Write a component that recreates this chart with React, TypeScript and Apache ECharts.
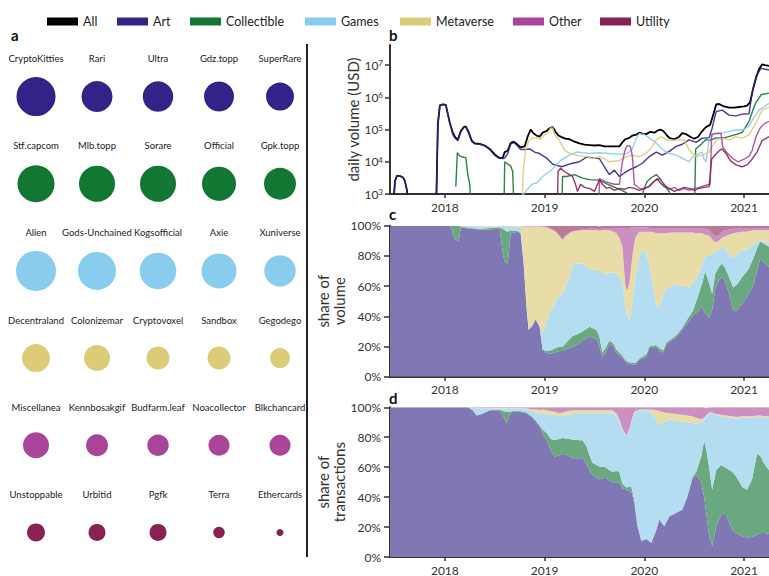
import React, { useEffect, useRef } from 'react';
import * as echarts from 'echarts';

const FONT = 'Lato, "Noto Sans", "DejaVu Sans", sans-serif';

// ---------- legend / categories ----------
const legendNames = ['All', 'Art', 'Collectible', 'Games', 'Metaverse', 'Other', 'Utility'];
const categories = ['Art', 'Collectible', 'Games', 'Metaverse', 'Other', 'Utility'];
const lineColors: Record<string, string> = {
  All: '#000000', Art: '#332288', Collectible: '#117733', Games: '#88CCEE',
  Metaverse: '#DDCC77', Other: '#AA4499', Utility: '#882255',
};
const areaColors: Record<string, string> = {
  Art: '#8078b4', Collectible: '#6aa97f', Games: '#b5ddf1',
  Metaverse: '#e9dda7', Other: '#cc8fc2', Utility: '#b77a99',
};
const legendLeft = [47, 117, 190, 305, 400, 513, 600];

// ---------- panel a: top collections ----------
const artCollections = ['CryptoKitties', 'Rari', 'Ultra', 'Gdz.topp', 'SuperRare'];
const artBubble = [39, 31, 30.5, 30, 28];
const collectibleCollections = ['Stf.capcom', 'Mlb.topp', 'Sorare', 'Official', 'Gpk.topp'];
const collectibleBubble = [37, 36, 36, 34, 32];
const gamesCollections = ['Alien', 'Gods-Unchained', 'Kogsofficial', 'Axie', 'Xuniverse'];
const gamesBubble = [40, 38, 36.5, 35, 31.5];
const metaverseCollections = ['Decentraland', 'Colonizemar', 'Cryptovoxel', 'Sandbox', 'Gegodego'];
const metaverseBubble = [28, 26, 23, 23, 20];
const otherCollections = ['Miscellanea', 'Kennbosakgif', 'Budfarm.leaf', 'Noacollector', 'Blkchancard'];
const otherBubble = [26, 22, 21.5, 21, 21];
const utilityCollections = ['Unstoppable', 'Urbitid', 'Pgfk', 'Terra', 'Ethercards'];
const utilityBubble = [18, 17, 17, 11.5, 7];

// ---------- panel b: daily volume (USD), [decimal year, value] ----------
const yearTicks = [2018, 2019, 2020, 2021];

const volAll = [
  [2017.45, 100], [2017.48, 300], [2017.5, 2500], [2017.52, 3700], [2017.55, 3600], [2017.58, 3300], [2017.6, 2500], [2017.62, 1300], [2017.65, 100],
  [2017.9, 100], [2017.915, 800], [2017.93, 150000], [2017.95, 560000], [2017.98, 600000], [2018.01, 580000], [2018.03, 300000], [2018.05, 160000],
  [2018.08, 80000], [2018.1, 60000], [2018.13, 48000], [2018.16, 90000], [2018.19, 120000], [2018.21, 125000], [2018.24, 80000], [2018.27, 45000],
  [2018.3, 37000], [2018.35, 36000], [2018.4, 32000], [2018.45, 25000], [2018.5, 17000], [2018.54, 13500], [2018.58, 13000], [2018.6, 20000],
  [2018.63, 22000], [2018.66, 38000], [2018.69, 42000], [2018.72, 36000], [2018.76, 28000], [2018.8, 30000], [2018.83, 60000], [2018.86, 100000],
  [2018.89, 75000], [2018.92, 65000], [2018.95, 60000], [2018.98, 80000], [2019.02, 90000], [2019.05, 110000], [2019.08, 120000], [2019.11, 85000],
  [2019.14, 65000], [2019.17, 58000], [2019.21, 52000], [2019.25, 50000], [2019.3, 42000], [2019.35, 37000], [2019.4, 34000], [2019.45, 33000],
  [2019.5, 32000], [2019.55, 33000], [2019.6, 30000], [2019.65, 30000], [2019.7, 30000], [2019.75, 30000], [2019.78, 40000], [2019.81, 50000],
  [2019.85, 55000], [2019.88, 65000], [2019.92, 70000], [2019.95, 80000], [2019.98, 75000], [2020.02, 72000], [2020.06, 85000], [2020.1, 80000],
  [2020.14, 95000], [2020.16, 100000], [2020.19, 90000], [2020.22, 70000], [2020.25, 55000], [2020.3, 50000], [2020.35, 60000], [2020.38, 78000],
  [2020.42, 72000], [2020.46, 60000], [2020.5, 52000], [2020.54, 60000], [2020.58, 90000], [2020.62, 120000], [2020.66, 140000], [2020.69, 280000],
  [2020.72, 600000], [2020.75, 620000], [2020.8, 520000], [2020.85, 480000], [2020.9, 480000], [2020.95, 500000], [2021.0, 520000], [2021.03, 550000],
  [2021.06, 700000], [2021.09, 1800000], [2021.12, 4000000], [2021.15, 7500000], [2021.18, 10500000], [2021.21, 10000000], [2021.25, 9500000],
];
const volArt = [
  [2017.45, 100], [2017.48, 300], [2017.5, 2500], [2017.52, 3700], [2017.55, 3600], [2017.58, 3300], [2017.6, 2500], [2017.62, 1300], [2017.65, 100],
  [2017.9, 100], [2017.915, 800], [2017.93, 150000], [2017.95, 560000], [2017.98, 600000], [2018.01, 580000], [2018.03, 300000], [2018.05, 160000],
  [2018.08, 70000], [2018.1, 55000], [2018.13, 45000], [2018.16, 85000], [2018.19, 115000], [2018.21, 120000], [2018.24, 75000], [2018.27, 42000],
  [2018.3, 36000], [2018.35, 35000], [2018.4, 31000], [2018.45, 24000], [2018.5, 16000], [2018.54, 13000], [2018.58, 12500], [2018.6, 13000],
  [2018.63, 18000], [2018.66, 35000], [2018.69, 40000], [2018.72, 33000], [2018.76, 24000], [2018.8, 24000], [2018.85, 25000], [2018.9, 20000],
  [2018.95, 18000], [2019.02, 13000], [2019.08, 8500], [2019.17, 7000], [2019.25, 8500], [2019.35, 10000], [2019.42, 14000], [2019.5, 13000],
  [2019.55, 12500], [2019.6, 7000], [2019.65, 4000], [2019.7, 5500], [2019.75, 3500], [2019.8, 4500], [2019.85, 5600], [2019.92, 7000],
  [2019.98, 9000], [2020.05, 14500], [2020.12, 20000], [2020.18, 16000], [2020.25, 21000], [2020.32, 30000], [2020.38, 35000], [2020.45, 48000],
  [2020.52, 40000], [2020.58, 54000], [2020.65, 56000], [2020.68, 110000], [2020.72, 360000], [2020.78, 400000], [2020.85, 280000], [2020.92, 265000],
  [2020.98, 300000], [2021.05, 310000], [2021.08, 1350000], [2021.12, 4400000], [2021.17, 8000000], [2021.25, 7000000],
];
const volCollectible = [
  [2018.11, 1700], [2018.125, 19000], [2018.15, 15000], [2018.18, 14000], [2018.21, 13500], [2018.23, 4000], [2018.25, 2000], [2018.27, 100],
  [2018.59, 100], [2018.6, 10000], [2018.63, 8500], [2018.66, 7500], [2018.68, 5000], [2018.7, 100], [2019.17, 100], [2019.18, 3500],
  [2019.22, 3500], [2019.3, 4000], [2019.38, 3100], [2019.45, 2800], [2019.55, 2700], [2019.65, 1900], [2019.75, 1400], [2019.82, 1100],
  [2019.87, 100], [2019.97, 100], [2019.99, 1300], [2020.03, 2500], [2020.07, 3200], [2020.12, 4000], [2020.16, 3000], [2020.2, 1800],
  [2020.25, 1200], [2020.3, 100], [2020.5, 100], [2020.515, 25000], [2020.57, 35000], [2020.62, 50000], [2020.65, 45000], [2020.72, 55000],
  [2020.8, 55000], [2020.88, 65000], [2020.98, 80000], [2021.05, 180000], [2021.1, 500000], [2021.12, 700000], [2021.17, 1200000], [2021.25, 1350000],
];
const volGames = [
  [2018.76, 100], [2018.78, 900], [2018.82, 1300], [2018.86, 1800], [2018.885, 2100], [2018.92, 2200], [2018.95, 2700], [2018.98, 3500],
  [2019.02, 4400], [2019.07, 5500], [2019.1, 7000], [2019.135, 9000], [2019.17, 11500], [2019.25, 16000], [2019.32, 20000], [2019.38, 19000],
  [2019.45, 18000], [2019.55, 19000], [2019.65, 18000], [2019.75, 17000], [2019.83, 18000], [2019.88, 25000], [2019.92, 55000], [2019.95, 75000],
  [2020.0, 70000], [2020.05, 55000], [2020.12, 38000], [2020.18, 24000], [2020.25, 18000], [2020.32, 16000], [2020.38, 13000], [2020.45, 10000],
  [2020.48, 14000], [2020.52, 16000], [2020.58, 20000], [2020.6, 12000], [2020.62, 10000], [2020.65, 48000], [2020.7, 75000], [2020.8, 80000],
  [2020.9, 95000], [2021.0, 100000], [2021.05, 130000], [2021.085, 200000], [2021.15, 400000], [2021.25, 650000],
];
const volMetaverse = [
  [2018.77, 100], [2018.785, 5000], [2018.81, 23000], [2018.84, 45000], [2018.88, 55000], [2018.92, 55000], [2018.96, 50000], [2019.0, 70000],
  [2019.03, 75000], [2019.06, 110000], [2019.08, 115000], [2019.1, 70000], [2019.13, 55000], [2019.15, 45000], [2019.2, 23000], [2019.25, 18000],
  [2019.32, 16000], [2019.42, 14500], [2019.48, 12500], [2019.55, 14500], [2019.6, 12500], [2019.65, 10000], [2019.75, 11000], [2019.82, 14500],
  [2019.88, 16000], [2019.95, 14500], [2020.02, 18000], [2020.08, 30000], [2020.12, 48000], [2020.17, 60000], [2020.22, 48000], [2020.28, 46000],
  [2020.35, 48000], [2020.4, 48000], [2020.45, 23000], [2020.52, 14500], [2020.58, 16000], [2020.65, 20000], [2020.72, 48000], [2020.78, 54000],
  [2020.85, 48000], [2020.92, 60000], [2020.98, 54000], [2021.05, 68000], [2021.12, 160000], [2021.18, 400000], [2021.25, 500000],
];
const volOther = [
  [2019.54, 100], [2019.55, 3000], [2019.6, 2500], [2019.65, 2200], [2019.7, 2000], [2019.75, 2000], [2019.78, 10000], [2019.81, 25000],
  [2019.83, 32000], [2019.86, 30000], [2019.88, 15000], [2019.9, 2000], [2019.95, 1500], [2020.0, 1400], [2020.05, 1800], [2020.1, 2500],
  [2020.15, 3000], [2020.2, 2000], [2020.25, 1400], [2020.3, 1600], [2020.35, 1300], [2020.4, 1500], [2020.45, 1300], [2020.5, 1500],
  [2020.55, 1600], [2020.6, 1800], [2020.66, 2000], [2020.675, 70000], [2020.72, 75000], [2020.77, 75000], [2020.785, 30000], [2020.82, 20000],
  [2020.88, 13000], [2020.94, 10000], [2021.0, 12000], [2021.05, 15000], [2021.08, 22000], [2021.12, 60000], [2021.16, 110000], [2021.2, 150000],
  [2021.25, 180000],
];
const volUtility = [
  [2019.125, 100], [2019.135, 5000], [2019.16, 6300], [2019.2, 5000], [2019.25, 4000], [2019.28, 3500], [2019.31, 2000], [2019.33, 1200],
  [2019.36, 2000], [2019.4, 1600], [2019.45, 1500], [2019.5, 1200], [2019.55, 2800], [2019.58, 2000], [2019.62, 1500], [2019.65, 1600],
  [2019.7, 1300], [2019.75, 1500], [2019.8, 1400], [2019.85, 1600], [2019.9, 1500], [2019.95, 1300], [2020.0, 1500], [2020.05, 1700],
  [2020.1, 2500], [2020.13, 3000], [2020.16, 2200], [2020.2, 1700], [2020.25, 1500], [2020.3, 1200], [2020.35, 1400], [2020.4, 1600],
  [2020.45, 1500], [2020.5, 1300], [2020.55, 1500], [2020.6, 1600], [2020.65, 1700], [2020.675, 12000], [2020.7, 15000], [2020.75, 22000],
  [2020.78, 25000], [2020.82, 18000], [2020.86, 11000], [2020.92, 8000], [2020.98, 7000], [2021.03, 8000], [2021.08, 12000], [2021.13, 20000],
  [2021.18, 45000], [2021.25, 60000],
];

// ---------- panel c: share of volume (%) ----------
const volShareDates = [
  2017.45, 2018.05, 2018.07, 2018.1, 2018.14, 2018.16, 2018.25, 2018.35, 2018.45, 2018.55,
  2018.58, 2018.6, 2018.63, 2018.66, 2018.73, 2018.76, 2018.79, 2018.82, 2018.84, 2018.88,
  2018.91, 2018.95, 2018.98, 2019.01, 2019.05, 2019.11, 2019.15, 2019.18, 2019.21, 2019.25,
  2019.28, 2019.32, 2019.38, 2019.45, 2019.52, 2019.55, 2019.58, 2019.62, 2019.65, 2019.69,
  2019.72, 2019.75, 2019.78, 2019.81, 2019.83, 2019.85, 2019.88, 2019.91, 2019.95, 2019.98,
  2020.02, 2020.05, 2020.08, 2020.12, 2020.15, 2020.19, 2020.22, 2020.27, 2020.32, 2020.38,
  2020.45, 2020.49, 2020.52, 2020.55, 2020.58, 2020.61, 2020.65, 2020.68, 2020.71, 2020.75,
  2020.78, 2020.81, 2020.85, 2020.89, 2020.93, 2020.98, 2021.02, 2021.05, 2021.09, 2021.13,
  2021.16, 2021.2, 2021.25,
];
const volShareArt = [
  100, 100, 97, 91, 90, 99, 98, 97.5, 97.5, 98,
  82, 76, 75, 95, 96, 95, 75, 45, 31, 34,
  38, 33, 18, 16, 15, 16, 17, 17, 18, 19,
  20, 21, 24, 26.5, 25, 20, 13, 17, 22, 20,
  16, 14, 13, 10, 9, 8.5, 8, 8, 11, 12,
  13, 19, 19, 20, 17, 16, 21, 24, 26, 31,
  37, 41, 42, 44, 46, 42, 39, 44, 58, 64,
  66, 63, 55, 44, 44, 48.5, 52, 55, 60, 70,
  78, 76, 72.5,
];
const volShareCollectible = [
  0, 0, 3, 9, 10, 0.5, 0.5, 0.5, 1, 1,
  16, 21, 21, 2, 0.5, 0.3, 0, 0, 0, 0,
  0, 0, 0.5, 1, 2, 3, 3, 3, 4, 6,
  7, 7, 6, 6.5, 6, 6.5, 3, 3, 2, 2,
  2, 2, 1, 1, 1, 1, 1, 1, 1, 1,
  2, 1, 1.5, 1, 2, 1.5, 1.5, 1, 1.5, 1.5,
  3, 3, 8, 12, 16, 28, 23, 11, 10, 9,
  9, 9, 11, 15, 17, 17.5, 17, 17, 18, 15,
  11.5, 12, 13.5,
];
const volShareGames = [
  0, 0, 0, 0, 0, 0.5, 1.3, 1.5, 1, 0.6,
  1.5, 2.5, 3.3, 2, 3, 4.2, 0.5, 0.3, 0.3, 0.3,
  0.3, 0.5, 10.5, 17, 25, 31, 34, 35, 38, 40,
  47, 47, 45, 38.5, 39, 43.5, 53, 48, 45, 47,
  50, 50, 48, 35, 30, 28, 41, 56, 68, 71,
  67, 53, 42.5, 27, 27, 37.5, 35.5, 35, 33.5, 27.5,
  19, 18, 15, 13, 12, 10, 18, 26, 15, 11,
  11, 13, 15, 20, 20, 18, 15, 13, 9, 4,
  1, 1.5, 2.5,
];
const volShareMetaverse = [
  0, 0, 0, 0, 0, 0, 0.2, 0.5, 0.3, 0.2,
  0.2, 0.2, 0.4, 0.7, 0.3, 0.3, 24, 54.2, 68.2, 65.2,
  61.2, 66, 70.3, 65, 56, 46, 39, 35.5, 33, 30,
  22, 21.5, 22, 25.5, 27, 26.5, 28, 29, 28, 27,
  27, 26, 24, 14, 17, 24.5, 30, 27, 16, 12,
  14, 23, 33, 47, 49, 40, 37, 35.5, 34.5, 35.5,
  36.5, 33.5, 30, 26, 21, 14, 13.5, 10, 6, 6,
  6, 8, 13, 16, 14.5, 12, 12, 11.5, 10, 8,
  6.5, 7.5, 8.5,
];
const volShareOther = [
  0, 0, 0, 0, 0, 0, 0, 0, 0.2, 0.2,
  0.3, 0.3, 0.3, 0.3, 0.2, 0.2, 0.5, 0.5, 0.5, 0.5,
  0.5, 0.5, 0.7, 1, 0.5, 0.5, 0.5, 0.5, 0.5, 0.5,
  0.5, 0.5, 0.5, 1, 1, 1, 1, 1, 1, 2,
  3, 6.5, 12.5, 38.5, 41.5, 36.5, 19, 7, 3, 3,
  3, 2.5, 2.5, 3.5, 3.5, 3.5, 3.5, 3, 3, 3,
  3, 3, 3.5, 3.5, 3, 4, 3.5, 4, 4, 3.5,
  4, 4, 3.5, 3, 2.5, 2.5, 2.5, 2, 1.5, 1.5,
  1.5, 1.5, 1.5,
];
const volShareUtility = [
  0, 0, 0, 0, 0, 0, 0, 0, 0, 0,
  0, 0, 0, 0, 0, 0, 0, 0, 0, 0,
  0, 0, 0, 0, 1.5, 3.5, 6.5, 9, 6.5, 4.5,
  3.5, 3, 2.5, 2, 2, 2, 2, 2, 2, 2,
  2, 1.5, 1.5, 1.5, 1.5, 1.5, 1, 1, 1, 1,
  1, 1.5, 1.5, 1.5, 1.5, 1.5, 1.5, 1.5, 1.5, 1.5,
  1.5, 1.5, 1.5, 1.5, 2, 2, 3, 5, 7, 6.5,
  4, 3, 2.5, 2, 2, 1.5, 1.5, 1.5, 1.5, 1.5,
  1.5, 1.5, 1.5,
];

// ---------- panel d: share of transactions (%) ----------
const txShareDates = [
  2017.45, 2018.23, 2018.28, 2018.32, 2018.37, 2018.45, 2018.55, 2018.58, 2018.62, 2018.65,
  2018.68, 2018.75, 2018.82, 2018.88, 2018.92, 2018.95, 2018.98, 2019.02, 2019.06, 2019.1,
  2019.15, 2019.18, 2019.23, 2019.28, 2019.35, 2019.38, 2019.42, 2019.45, 2019.48, 2019.52,
  2019.55, 2019.61, 2019.65, 2019.68, 2019.72, 2019.75, 2019.78, 2019.82, 2019.85, 2019.87,
  2019.9, 2019.93, 2019.97, 2020.02, 2020.07, 2020.12, 2020.15, 2020.2, 2020.25, 2020.32,
  2020.38, 2020.43, 2020.48, 2020.52, 2020.57, 2020.6, 2020.62, 2020.65, 2020.68, 2020.72,
  2020.77, 2020.82, 2020.88, 2020.92, 2020.98, 2021.03, 2021.08, 2021.13, 2021.17, 2021.2,
  2021.25,
];
const txShareArt = [
  100, 100, 98, 94.5, 95.5, 98, 98, 95, 89.5, 95,
  97, 97, 96, 93, 90, 87, 82, 78, 72, 67,
  68, 69, 68, 66, 66, 67, 62, 58, 55, 53,
  52, 53, 51, 50, 49.5, 50, 46, 45, 44, 44,
  36, 21, 10.5, 12, 9.5, 18, 25, 20.5, 27, 29.5,
  31.5, 40, 51.5, 55, 50, 40, 29.5, 14, 7.5, 20,
  28, 28, 18.5, 16, 14, 13, 13.5, 15, 16, 16,
  15.5,
];
const txShareCollectible = [
  0, 0, 0, 0, 0, 0, 0.5, 2.5, 7.5, 2,
  0.5, 0.5, 0.5, 0.5, 0.5, 1, 3, 5, 7, 11,
  11, 10.5, 11, 12.5, 12, 11, 12, 10, 8, 8.5,
  8.5, 7, 7, 7, 8, 7, 3, 1.5, 3, 3,
  2, 0.5, 0.5, 0, 0, 0, 0, 0, 0, 0,
  0, 0, 1.5, 2, 17, 38, 42.5, 46, 37.5, 38,
  33.5, 31.5, 38.5, 38, 33, 32, 38.5, 54, 51, 46.5,
  42.5,
];
const txShareGames = [
  0, 0, 1.5, 4.8, 3.8, 1.3, 0.8, 1.8, 2.3, 2.3,
  1.8, 1.8, 2, 3.5, 6, 8, 11, 12.5, 16, 17,
  15, 14.5, 16, 17, 17.5, 18, 22, 28, 33, 34.5,
  35.5, 36, 38, 39, 36.5, 34, 36, 34, 38, 43,
  58, 76, 87, 86, 86.5, 74, 63, 69.5, 65, 61.5,
  58.5, 50, 36.5, 32, 23, 14, 21.5, 36, 51, 37,
  32.5, 33.5, 36, 38.5, 46, 48, 41, 24.5, 26.5, 30.5,
  35,
];
const txShareMetaverse = [
  0, 0, 0.2, 0.3, 0.3, 0.3, 0.3, 0.3, 0.3, 0.3,
  0.3, 0.3, 0.8, 1.5, 2, 2, 2.5, 2.5, 2.5, 2,
  2, 2.5, 2.5, 2.5, 2.5, 2, 2, 2, 2, 2,
  2, 2, 2, 2, 2, 1, 1, 0.5, 0.5, 1,
  1, 0.5, 0.5, 0.5, 2.5, 6, 9.5, 6.5, 4, 4.5,
  5, 4.5, 4.5, 4, 2, 1, 1, 0.5, 0.5, 0.5,
  1, 1.5, 1, 1, 1, 1, 1, 1, 1, 1,
  1,
];
const txShareOther = [
  0, 0, 0.3, 0.4, 0.4, 0.4, 0.4, 0.4, 0.4, 0.4,
  0.4, 0.4, 0.7, 1.5, 1.5, 2, 1.5, 1.7, 2.2, 2.7,
  3.7, 3.2, 2.2, 1.7, 1.7, 1.7, 1.7, 1.7, 1.7, 1.7,
  1.7, 1.7, 1.7, 1.7, 3.7, 7.7, 13.7, 18.7, 14.2, 8.7,
  2.7, 1.7, 1.2, 1.2, 1.2, 1.7, 2.2, 3.2, 3.7, 4.2,
  4.7, 5.2, 5.7, 6.7, 7.7, 6.7, 4.7, 3.2, 3.2, 4.2,
  4.7, 5.2, 5.7, 6.2, 5.7, 5.7, 5.7, 5.2, 5.2, 5.7,
  5.7,
];
const txShareUtility = [
  0, 0, 0, 0, 0, 0, 0, 0, 0, 0,
  0, 0, 0, 0, 0, 0, 0, 0.3, 0.3, 0.3,
  0.3, 0.3, 0.3, 0.3, 0.3, 0.3, 0.3, 0.3, 0.3, 0.3,
  0.3, 0.3, 0.3, 0.3, 0.3, 0.3, 0.3, 0.3, 0.3, 0.3,
  0.3, 0.3, 0.3, 0.3, 0.3, 0.3, 0.3, 0.3, 0.3, 0.3,
  0.3, 0.3, 0.3, 0.3, 0.3, 0.3, 0.3, 0.3, 0.3, 0.3,
  0.3, 0.3, 0.3, 0.3, 0.3, 0.3, 0.3, 0.3, 0.3, 0.3,
  0.3,
];

// ---------- assembly ----------
const collectionsByCategory = [
  [artCollections, artBubble],
  [collectibleCollections, collectibleBubble],
  [gamesCollections, gamesBubble],
  [metaverseCollections, metaverseBubble],
  [otherCollections, otherBubble],
  [utilityCollections, utilityBubble],
] as [string[], number[]][];

const volumeSeries: [string, number[][]][] = [
  ['All', volAll], ['Art', volArt], ['Collectible', volCollectible], ['Games', volGames],
  ['Metaverse', volMetaverse], ['Other', volOther], ['Utility', volUtility],
];
const volShares = [volShareArt, volShareCollectible, volShareGames, volShareMetaverse, volShareOther, volShareUtility];
const txShares = [txShareArt, txShareCollectible, txShareGames, txShareMetaverse, txShareOther, txShareUtility];

const AXIS_COLOR = '#333333';
const X_MIN = 2017.45;
const X_MAX = 2021.25;
const LOG_MAX = 42000000;

function makeXAxis(gridIndex: number) {
  return {
    type: 'value', gridIndex, min: X_MIN, max: X_MAX,
    axisLine: { show: true, lineStyle: { color: AXIS_COLOR, width: 2 } },
    axisTick: { show: true, customValues: yearTicks, length: 4, lineStyle: { color: AXIS_COLOR, width: 1.5 } },
    axisLabel: { customValues: yearTicks, formatter: (v: number) => String(Math.round(v)), fontSize: 12, color: AXIS_COLOR, margin: 7, fontFamily: FONT },
    splitLine: { show: false },
  };
}

function makeShareYAxis(gridIndex: number, name: string) {
  return {
    type: 'value', gridIndex, min: 0, max: 100, interval: 20,
    name, nameLocation: 'middle', nameGap: 42,
    nameTextStyle: { fontSize: 15, lineHeight: 16, color: AXIS_COLOR, fontFamily: FONT },
    axisLine: { show: true, lineStyle: { color: AXIS_COLOR, width: 2 } },
    axisTick: { show: true, length: 6, lineStyle: { color: AXIS_COLOR, width: 1.5 } },
    axisLabel: { formatter: '{value}%', fontSize: 12, color: AXIS_COLOR, margin: 9, fontFamily: FONT },
    splitLine: { show: false },
  };
}

function buildOption() {
  const minorLogTicks: number[] = [];
  for (let e = 3; e <= 7; e++) {
    for (let m = 2; m <= 9; m++) {
      const v = m * Math.pow(10, e);
      if (v <= LOG_MAX) minorLogTicks.push(v);
    }
  }

  const series: any[] = [];

  // panel a bubbles
  collectionsByCategory.forEach(([names, sizes], row) => {
    const cat = categories[row];
    series.push({
      type: 'scatter', name: cat, xAxisIndex: 0, yAxisIndex: 0,
      data: names.map((n, col) => ({ name: n, value: [col, row, sizes[col]] })),
      symbol: 'circle',
      symbolSize: (val: number[]) => val[2],
      itemStyle: { color: lineColors[cat], opacity: 1 },
      label: {
        show: true, position: 'inside', offset: [0, -38], formatter: '{b}',
        color: '#222', fontSize: 9.5, fontFamily: FONT, textBorderWidth: 0,
      },
      emphasis: { disabled: true },
      silent: true,
    });
  });

  // panel b lines
  volumeSeries.forEach(([name, data]) => {
    series.push({
      type: 'line', name, xAxisIndex: 1, yAxisIndex: 1, data,
      symbol: 'none', showSymbol: false, clip: true,
      color: lineColors[name],
      lineStyle: { color: lineColors[name], width: name === 'All' ? 1.8 : 1.4, opacity: name === 'All' ? 1 : 0.9 },
      emphasis: { disabled: true }, silent: true,
    });
  });

  // panel c / d stacked areas. Each point is [share, year]; the share is put first so that
  // ECharts stacks the share dimension (it stacks the first numeric dimension).
  const addShares = (dates: number[], arrs: number[][], xi: number, yi: number, stack: string) => {
    arrs.forEach((arr, k) => {
      const cat = categories[k];
      series.push({
        type: 'line', name: cat, xAxisIndex: xi, yAxisIndex: yi, stack,
        data: dates.map((d, i) => [arr[i], d]),
        encode: { x: 1, y: 0 },
        symbol: 'none', showSymbol: false,
        color: areaColors[cat],
        lineStyle: { width: 0, color: areaColors[cat] },
        areaStyle: { color: areaColors[cat], opacity: 1 },
        emphasis: { disabled: true }, silent: true,
      });
    });
  };
  addShares(volShareDates, volShares, 2, 2, 'volume');
  addShares(txShareDates, txShares, 3, 3, 'transactions');

  const legends = legendNames.map((name, i) => ({
    data: [{ name, itemStyle: { color: lineColors[name] } }],
    left: legendLeft[i], top: 15, icon: 'rect', itemWidth: 31, itemHeight: 8, itemGap: 0,
    padding: 0, selectedMode: false,
    textStyle: { fontSize: 12.5, color: '#222', fontFamily: FONT },
  }));

  return {
    animation: false,
    backgroundColor: '#ffffff',
    textStyle: { fontFamily: FONT },
    legend: legends,
    grid: [
      { left: 5.5, top: 53, width: 305, height: 532 },
      { left: 390, top: 45, width: 379, height: 149 },
      { left: 390, top: 225.7, width: 379, height: 151 },
      { left: 390, top: 407.3, width: 379, height: 150.4 },
    ],
    xAxis: [
      { type: 'value', gridIndex: 0, min: -0.5, max: 4.5, show: false },
      makeXAxis(1), makeXAxis(2), makeXAxis(3),
    ],
    yAxis: [
      { type: 'value', gridIndex: 0, min: -0.5, max: 5.5, inverse: true, show: false },
      {
        type: 'log', logBase: 10, gridIndex: 1, min: 1000, max: LOG_MAX,
        name: 'daily volume (USD)', nameLocation: 'middle', nameGap: 30,
        nameTextStyle: { fontSize: 15, color: AXIS_COLOR, fontFamily: FONT },
        axisLine: { show: true, lineStyle: { color: AXIS_COLOR, width: 2 } },
        axisTick: { show: true, length: 5, lineStyle: { color: AXIS_COLOR, width: 1.5 } },
        axisLabel: {
          margin: 7, showMaxLabel: false,
          formatter: (v: number) => {
            const e = Math.log10(v);
            const r = Math.round(e);
            if (Math.abs(e - r) > 1e-6) return '';
            return '{base|10}{sup|' + r + '}';
          },
          rich: {
            base: { fontSize: 12, color: AXIS_COLOR, fontFamily: FONT },
            sup: { fontSize: 8, color: AXIS_COLOR, fontFamily: FONT, verticalAlign: 'top', lineHeight: 8 },
          },
        },
        splitLine: { show: false },
      },
      makeShareYAxis(2, 'share of\nvolume'),
      makeShareYAxis(3, 'share of\ntransactions'),
      {
        type: 'log', logBase: 10, gridIndex: 1, min: 1000, max: LOG_MAX,
        axisLine: { show: false }, axisLabel: { show: false }, splitLine: { show: false },
        axisTick: { show: true, customValues: minorLogTicks, length: 3, lineStyle: { color: AXIS_COLOR, width: 1 } },
      },
    ],
    series,
    graphic: [
      { type: 'text', left: 11, top: 27, style: { text: 'a', font: 'bold 15px Lato, sans-serif', fill: '#111' } },
      { type: 'text', left: 389, top: 27, style: { text: 'b', font: 'bold 15px Lato, sans-serif', fill: '#111' } },
      { type: 'text', left: 389, top: 206, style: { text: 'c', font: 'bold 15px Lato, sans-serif', fill: '#111' } },
      { type: 'text', left: 389, top: 390, style: { text: 'd', font: 'bold 15px Lato, sans-serif', fill: '#111' } },
      { type: 'line', shape: { x1: 307, y1: 44, x2: 307, y2: 557 }, style: { stroke: '#222', lineWidth: 2 } },
    ],
  };
}

export default function App() {
  const ref = useRef<HTMLDivElement>(null);
  useEffect(() => {
    if (!ref.current) return;
    const chart = echarts.init(ref.current, undefined, { renderer: 'svg' });
    chart.setOption(buildOption() as any);
    return () => chart.dispose();
  }, []);
  return (
    <div
      ref={ref}
      style={{ position: 'fixed', left: 0, top: 0, width: 769, height: 576, background: '#fff' }}
    />
  );
}
